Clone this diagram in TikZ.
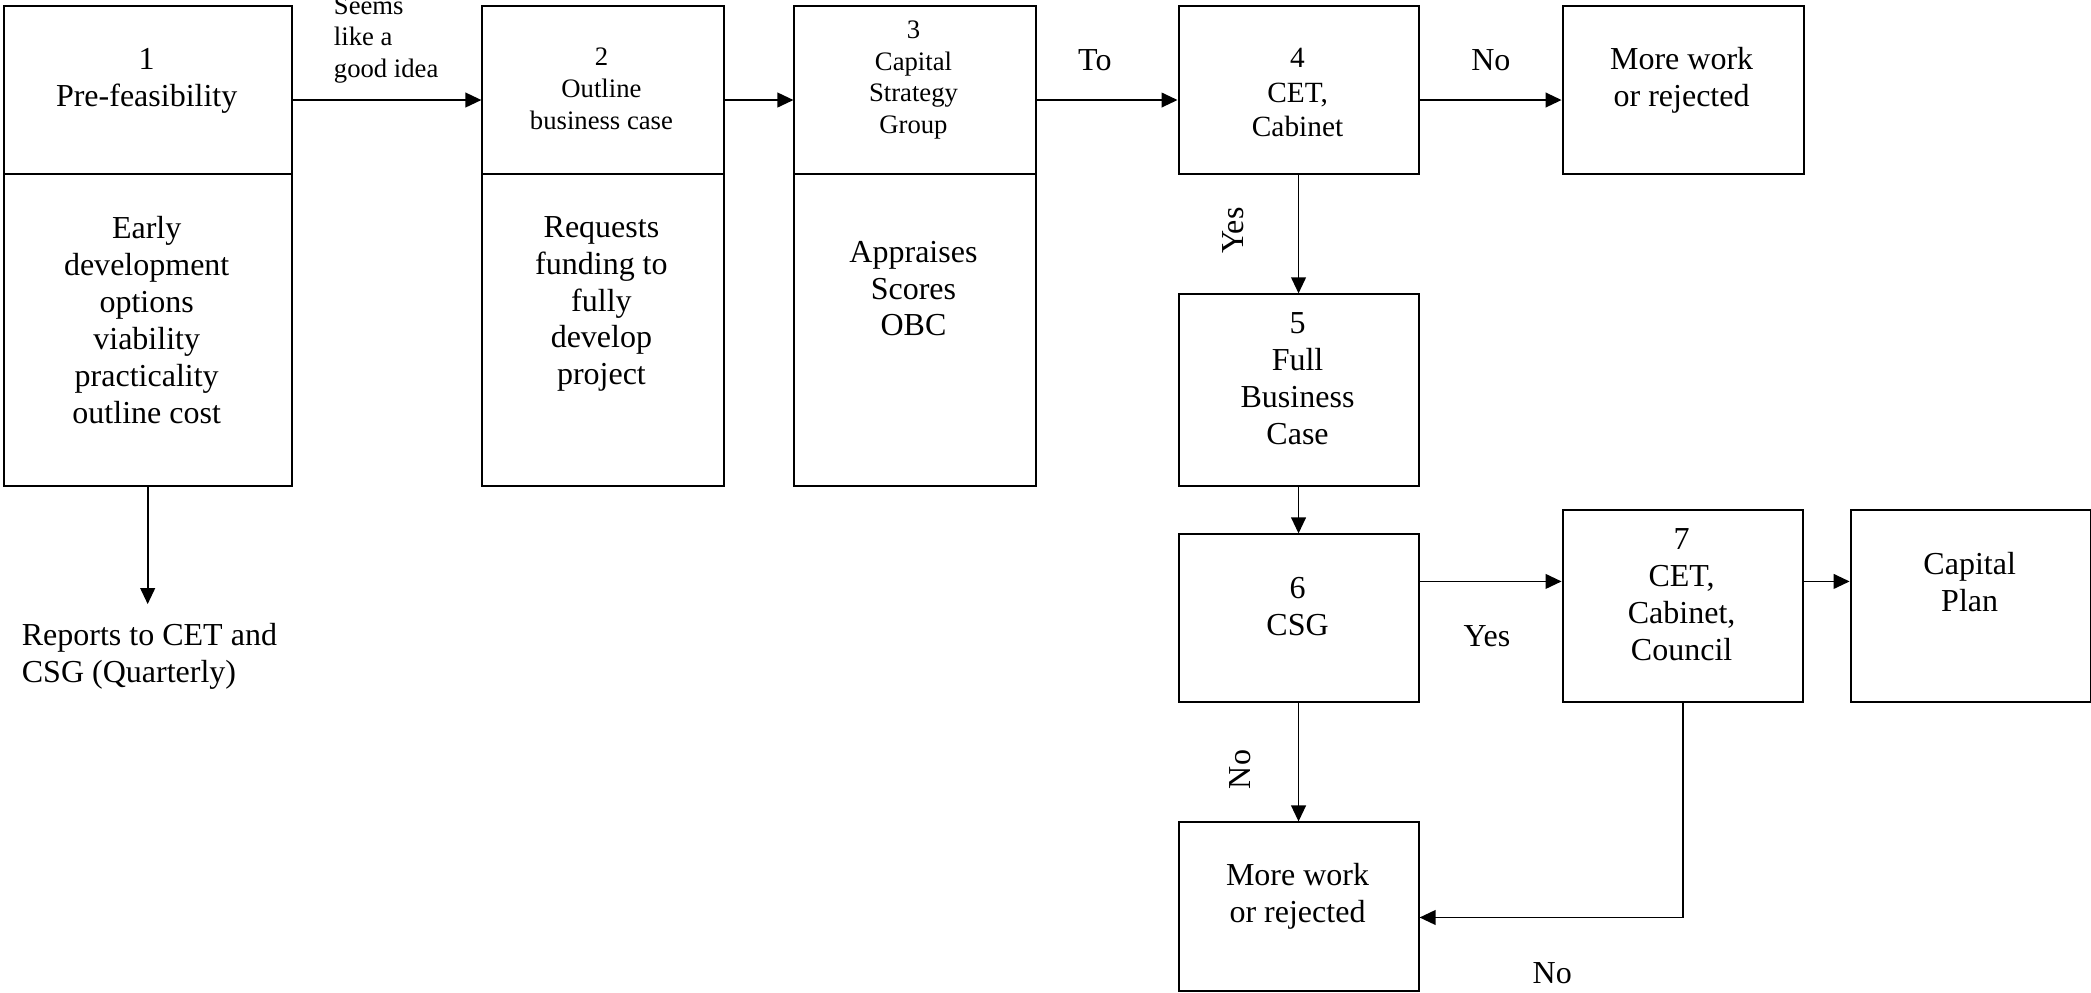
\documentclass[tikz,border=0pt]{standalone}
\usepackage{fontspec}
\setmainfont{Liberation Serif}
\usetikzlibrary{arrows.meta}
\begin{document}
\begin{tikzpicture}[x=0.5pt,y=-0.5pt,
 box/.style={draw, line width=0.75pt, inner sep=0pt, anchor=north west},
 txt/.style={align=center, inner sep=0pt, font=\fontsize{12}{13.8}\selectfont},
 small/.style={align=center, inner sep=0pt, font=\fontsize{10}{11.8}\selectfont},
 lbl/.style={inner sep=0pt, font=\fontsize{12}{13.8}\selectfont},
 arr/.style={line width=0.7pt, -{Triangle[length=6pt,width=5.5pt]}},
]
\useasboundingbox (0,0) rectangle (1568,744);
% boxes
\node[box, minimum width=108pt, minimum height=63pt] (b1t) at (2,4) {};
\node[box, minimum width=108pt, minimum height=117pt] (b1b) at (2,130) {};
\node[box, minimum width=90.5pt, minimum height=63pt] (b2t) at (361,4) {};
\node[box, minimum width=90.5pt, minimum height=117pt] (b2b) at (361,130) {};
\node[box, minimum width=90.5pt, minimum height=63pt] (b3t) at (595,4) {};
\node[box, minimum width=90.5pt, minimum height=117pt] (b3b) at (595,130) {};
\node[box, minimum width=90pt, minimum height=63pt] (b4) at (883,4) {};
\node[box, minimum width=90.5pt, minimum height=63pt] (bmt) at (1171,4) {};
\node[box, minimum width=90pt, minimum height=72pt] (b5) at (883,220) {};
\node[box, minimum width=90pt, minimum height=63pt] (b6) at (883,400) {};
\node[box, minimum width=90pt, minimum height=72pt] (b7) at (1171,382) {};
\node[box, minimum width=90pt, minimum height=72pt] (bcap) at (1387,382) {};
\node[box, minimum width=90pt, minimum height=63pt] (bmb) at (883,616) {};
% texts
\node[txt] (t1t) at (110,60.5) {1\\Pre-feasibility};
\node[txt] (t1b) at (110,240) {Early\\development\\options\\viability\\practicality\\outline cost};
\node[small, font=\fontsize{10}{12}\selectfont] (t2t) at (451,66.5) {2\\Outline\\business case};
\node[txt] (t2b) at (451,228) {Requests\\funding to\\fully\\develop\\project};
\node[small] (t3t) at (685,60) {3\\Capital\\Strategy\\Group};
\node[txt] (t3b) at (685,216.5) {Appraises\\Scores\\OBC};
\node[txt, font=\fontsize{11}{12.9}\selectfont] (t4) at (973,69.5) {4\\CET,\\Cabinet};
\node[txt] (tmt) at (1261,60) {More work\\or rejected};
\node[txt] (t5) at (973,284) {5\\Full\\Business\\Case};
\node[txt] (t6) at (973,455) {6\\CSG};
\node[txt] (t7) at (1261,446) {7\\CET,\\Cabinet,\\Council};
\node[txt] (tcap) at (1477,436.5) {Capital\\Plan};
\node[txt] (tmb) at (973,672) {More work\\or rejected};
% labels
\node[small, align=left, anchor=west] (seems) at (250,30) {Seems\\like a\\good idea};
\node[lbl] (lto) at (821,45) {To};
\node[lbl] (lno1) at (1118,45) {No};
\node[lbl, rotate=90] (lyes1) at (925,173) {Yes};
\node[lbl, rotate=90] (lno2) at (930,577) {No};
\node[lbl] (lyes2) at (1115,477) {Yes};
\node[lbl] (lno3) at (1164,730) {No};
\node[txt, align=left, anchor=west] (rep) at (16,492) {Reports to CET and\\CSG (Quarterly)};
% connectors
\coordinate (r1) at (0,75);
\coordinate (r3) at (0,436);
\coordinate (r4) at (0,688);
\coordinate (repend) at (0,453);
\draw[arr] (b1t.east |- r1) -- (b2t.west |- r1);
\draw[arr] (b2t.east |- r1) -- (b3t.west |- r1);
\draw[arr] (b3t.east |- r1) -- (b4.west |- r1);
\draw[arr] (b4.east |- r1) -- (bmt.west |- r1);
\draw[arr] (b4.south) -- (b5.north);
\draw[arr] (b5.south) -- (b6.north);
\draw[arr] (b6.east |- r3) -- (b7.west |- r3);
\draw[arr] (b7.east |- r3) -- (bcap.west |- r3);
\draw[arr] (b6.south) -- (bmb.north);
\draw[arr] (b7.south) |- (bmb.east |- r4);
\draw[arr] (b1b.south) -- (b1b.south |- repend);
\end{tikzpicture}
\end{document}
